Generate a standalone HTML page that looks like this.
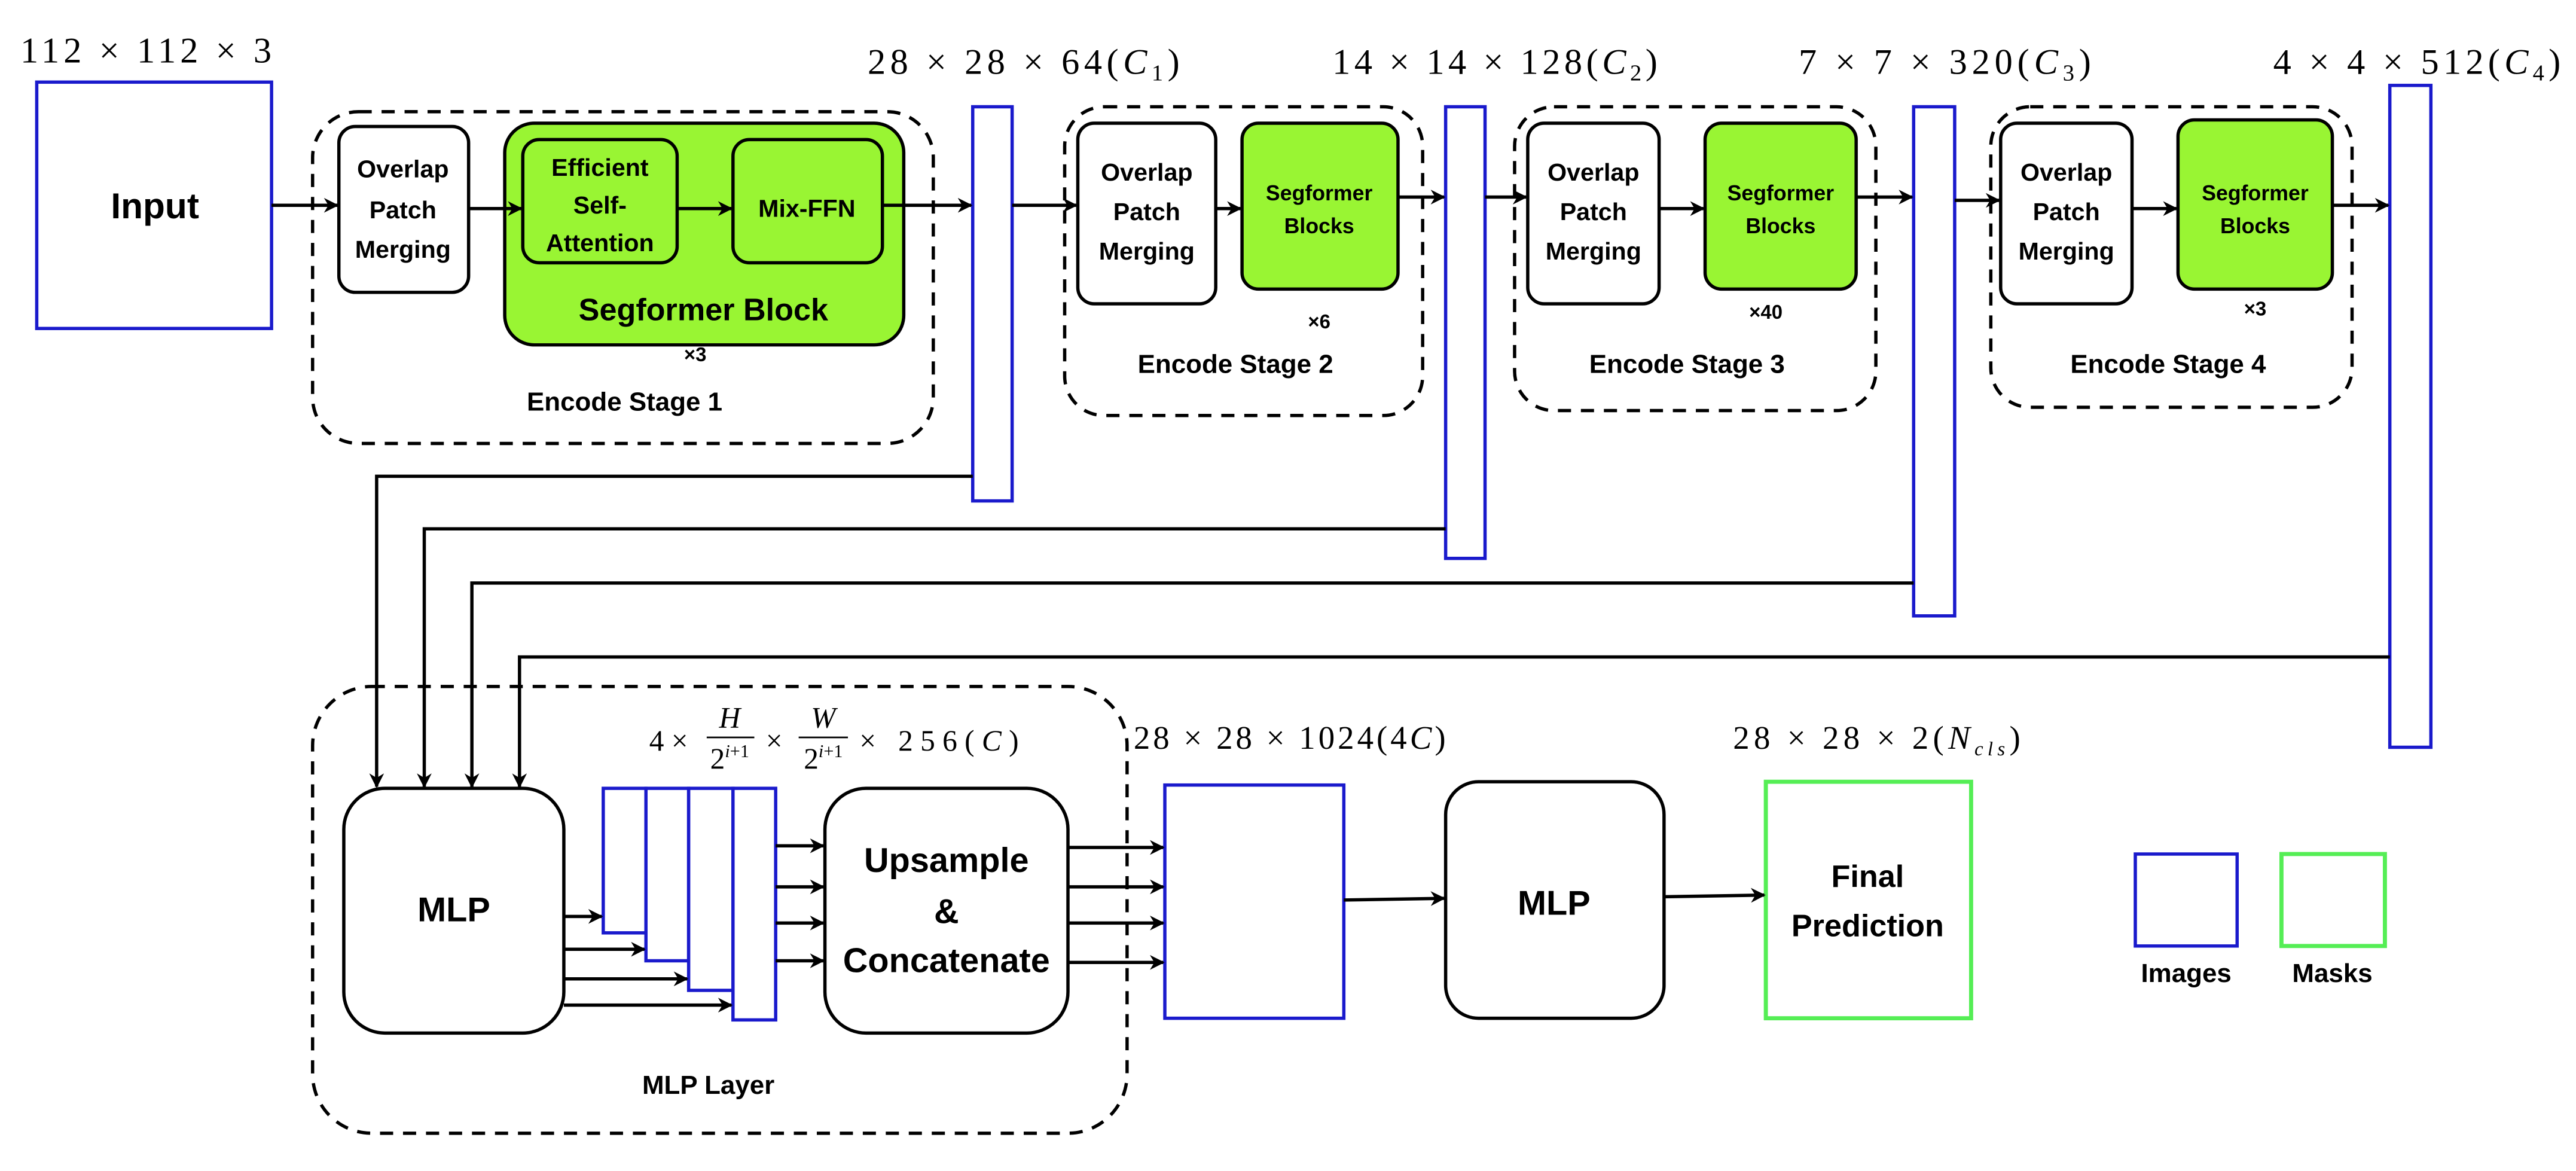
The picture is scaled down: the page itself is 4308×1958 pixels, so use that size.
<!DOCTYPE html>
<html><head><meta charset="utf-8"><style>
html,body{margin:0;padding:0;background:#fff;}
svg{display:block;}
.b{font-family:"Liberation Sans",sans-serif;font-weight:bold;fill:#000;text-anchor:middle;}
.m{font-family:"Liberation Serif",serif;fill:#000;}
</style></head><body>
<svg width="4308" height="1958" viewBox="0 0 1568 713" xmlns="http://www.w3.org/2000/svg">
<defs>
<marker id="a" viewBox="0 0 10 10" refX="9" refY="5" markerWidth="9" markerHeight="9" orient="auto" markerUnits="userSpaceOnUse">
<path d="M0,0 L10,5 L0,10 L3,5 Z" fill="#000"/></marker>
</defs>
<g fill="none" stroke="#000" stroke-width="2">
<g stroke-dasharray="8,6">
<rect x="190" y="68" width="378" height="202" rx="28"/>
<rect x="648" y="65" width="218" height="188" rx="24"/>
<rect x="922" y="65" width="220" height="185" rx="24"/>
<rect x="1212" y="65" width="220" height="183" rx="24"/>
<rect x="190" y="418" width="496" height="272" rx="36"/>
</g>
<rect x="206" y="77" width="79" height="101" rx="10"/>
<rect x="307" y="75" width="243" height="135" rx="18" fill="#99f533"/>
<rect x="318" y="85" width="94" height="75" rx="10"/>
<rect x="446" y="85" width="91" height="75" rx="10"/>
<rect x="656" y="75" width="84" height="110" rx="10"/>
<rect x="756" y="75" width="95" height="101" rx="10" fill="#99f533"/>
<rect x="930" y="75" width="80" height="110" rx="10"/>
<rect x="1038" y="75" width="92" height="101" rx="10" fill="#99f533"/>
<rect x="1218" y="75" width="80" height="110" rx="10"/>
<rect x="1326" y="73" width="94" height="103" rx="10" fill="#99f533"/>
<rect x="209" y="480" width="134" height="149" rx="25"/>
<rect x="502" y="480" width="148" height="149" rx="25"/>
<rect x="880" y="476" width="133" height="144" rx="20"/>
</g>
<g fill="none" stroke="#1a1acc" stroke-width="2">
<rect x="22" y="50" width="143" height="150"/>
<rect x="592" y="65" width="24" height="240"/>
<rect x="880" y="65" width="24" height="275"/>
<rect x="1165" y="65" width="25" height="310"/>
<rect x="1455" y="52" width="25" height="403"/>
<rect x="367" y="480" width="26" height="88" fill="#fff"/>
<rect x="393" y="480" width="26" height="105" fill="#fff"/>
<rect x="419" y="480" width="27" height="123" fill="#fff"/>
<rect x="446" y="480" width="26" height="141" fill="#fff"/>
<rect x="709" y="478" width="109" height="142"/>
<rect x="1300" y="520" width="62" height="56"/>
</g>
<g fill="none" stroke="#55ee55" stroke-width="2.5">
<rect x="1075" y="476" width="125" height="144"/>
<rect x="1389" y="520" width="63" height="56"/>
</g>
<g stroke="#000" stroke-width="2" fill="none" marker-end="url(#a)">
<line x1="165" y1="125" x2="205" y2="125"/>
<line x1="285" y1="127" x2="317" y2="127"/>
<line x1="412" y1="127" x2="445" y2="127"/>
<line x1="537" y1="125" x2="591" y2="125"/>
<line x1="616" y1="125" x2="655" y2="125"/>
<line x1="740" y1="127" x2="755" y2="127"/>
<line x1="851" y1="120" x2="879" y2="120"/>
<line x1="904" y1="120" x2="929" y2="120"/>
<line x1="1010" y1="127" x2="1037" y2="127"/>
<line x1="1130" y1="120" x2="1164" y2="120"/>
<line x1="1190" y1="122" x2="1217" y2="122"/>
<line x1="1298" y1="127" x2="1325" y2="127"/>
<line x1="1420" y1="125" x2="1454" y2="125"/>
<polyline points="592,290 229,290 229,479"/>
<polyline points="880,322 258,322 258,479"/>
<polyline points="1165,355 287,355 287,479"/>
<polyline points="1455,400 316,400 316,479"/>
<line x1="343" y1="558" x2="366" y2="558"/>
<line x1="343" y1="578" x2="392" y2="578"/>
<line x1="343" y1="596" x2="418" y2="596"/>
<line x1="343" y1="612" x2="445" y2="612"/>
<line x1="472" y1="515" x2="501" y2="515"/>
<line x1="472" y1="540" x2="501" y2="540"/>
<line x1="472" y1="562" x2="501" y2="562"/>
<line x1="472" y1="585" x2="501" y2="585"/>
<line x1="650" y1="516" x2="708" y2="516"/>
<line x1="650" y1="540" x2="708" y2="540"/>
<line x1="650" y1="562" x2="708" y2="562"/>
<line x1="650" y1="586" x2="708" y2="586"/>
<line x1="818" y1="548" x2="879" y2="547"/>
<line x1="1013" y1="546" x2="1074" y2="545"/>
</g>
<g class="b">
<text x="94" y="133" font-size="22">Input</text>
<text x="245" y="108" font-size="15">Overlap</text>
<text x="245" y="133" font-size="15">Patch</text>
<text x="245" y="157" font-size="15">Merging</text>
<text x="365" y="107" font-size="15">Efficient</text>
<text x="365" y="130" font-size="15">Self-</text>
<text x="365" y="153" font-size="15">Attention</text>
<text x="491" y="132" font-size="15">Mix-FFN</text>
<text x="428" y="195" font-size="19">Segformer Block</text>
<text x="423" y="220" font-size="12">×3</text>
<text x="380" y="250" font-size="16">Encode Stage 1</text>
<text x="698" y="110" font-size="15">Overlap</text>
<text x="698" y="134" font-size="15">Patch</text>
<text x="698" y="158" font-size="15">Merging</text>
<text x="803" y="122" font-size="13">Segformer</text>
<text x="803" y="142" font-size="13">Blocks</text>
<text x="803" y="200" font-size="12">×6</text>
<text x="752" y="227" font-size="16">Encode Stage 2</text>
<text x="970" y="110" font-size="15">Overlap</text>
<text x="970" y="134" font-size="15">Patch</text>
<text x="970" y="158" font-size="15">Merging</text>
<text x="1084" y="122" font-size="13">Segformer</text>
<text x="1084" y="142" font-size="13">Blocks</text>
<text x="1075" y="194" font-size="12">×40</text>
<text x="1027" y="227" font-size="16">Encode Stage 3</text>
<text x="1258" y="110" font-size="15">Overlap</text>
<text x="1258" y="134" font-size="15">Patch</text>
<text x="1258" y="158" font-size="15">Merging</text>
<text x="1373" y="122" font-size="13">Segformer</text>
<text x="1373" y="142" font-size="13">Blocks</text>
<text x="1373" y="192" font-size="12">×3</text>
<text x="1320" y="227" font-size="16">Encode Stage 4</text>
<text x="276" y="561" font-size="21">MLP</text>
<text x="576" y="531" font-size="21">Upsample</text>
<text x="576" y="562" font-size="21">&amp;</text>
<text x="576" y="592" font-size="21">Concatenate</text>
<text x="946" y="557" font-size="21">MLP</text>
<text x="1137" y="540" font-size="19">Final</text>
<text x="1137" y="570" font-size="19">Prediction</text>
<text x="431" y="666" font-size="16">MLP Layer</text>
<text x="1331" y="598" font-size="16">Images</text>
<text x="1420" y="598" font-size="16">Masks</text>
</g>
<g class="m" font-size="22">
<text x="12" y="38" textLength="153" lengthAdjust="spacing">112 × 112 × 3</text>
<text x="528" y="45" textLength="190" lengthAdjust="spacing">28 × 28 × 64(<tspan font-style="italic">C</tspan><tspan font-size="14" dy="4">1</tspan><tspan dy="-4">)</tspan></text>
<text x="811" y="45" textLength="198" lengthAdjust="spacing">14 × 14 × 128(<tspan font-style="italic">C</tspan><tspan font-size="14" dy="4">2</tspan><tspan dy="-4">)</tspan></text>
<text x="1095" y="45" textLength="178" lengthAdjust="spacing">7 × 7 × 320(<tspan font-style="italic">C</tspan><tspan font-size="14" dy="4">3</tspan><tspan dy="-4">)</tspan></text>
<text x="1384" y="45" textLength="175" lengthAdjust="spacing">4 × 4 × 512(<tspan font-style="italic">C</tspan><tspan font-size="14" dy="4">4</tspan><tspan dy="-4">)</tspan></text>
<text x="690" y="456" font-size="20" textLength="190" lengthAdjust="spacing">28 × 28 × 1024(4<tspan font-style="italic">C</tspan>)</text>
<text x="1055" y="456" font-size="20" textLength="175" lengthAdjust="spacing">28 × 28 × 2(<tspan font-style="italic">N</tspan><tspan font-size="12" dy="4" font-style="italic">cls</tspan><tspan dy="-4">)</tspan></text>
<g font-size="18">
<text x="395" y="457">4 ×</text>
<text x="444" y="443" font-style="italic" text-anchor="middle">H</text>
<line x1="430" y1="449" x2="459" y2="449" stroke="#000" stroke-width="1"/>
<text x="444" y="468" text-anchor="middle">2<tspan font-size="11" dy="-7" font-style="italic">i</tspan><tspan font-size="11">+1</tspan></text>
<text x="466" y="457">×</text>
<text x="501" y="443" font-style="italic" text-anchor="middle">W</text>
<line x1="486" y1="449" x2="516" y2="449" stroke="#000" stroke-width="1"/>
<text x="501" y="468" text-anchor="middle">2<tspan font-size="11" dy="-7" font-style="italic">i</tspan><tspan font-size="11">+1</tspan></text>
<text x="523" y="457" textLength="97" lengthAdjust="spacing">× 256(<tspan font-style="italic">C</tspan>)</text>
</g>
</g>
</svg>
</body></html>
